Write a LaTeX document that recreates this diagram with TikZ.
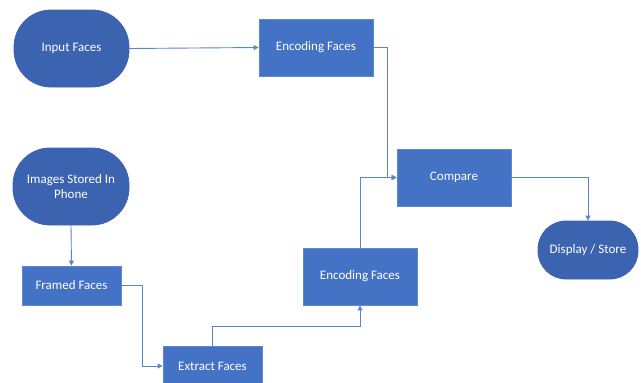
\documentclass[tikz,border=0pt]{standalone}
\usepackage{fontspec}
\setmainfont{Carlito}
\usetikzlibrary{arrows.meta}
\definecolor{boxfill}{HTML}{4472C4}
\definecolor{boxline}{HTML}{5E87D2}
\definecolor{termfill}{HTML}{3B63AF}
\definecolor{wire}{HTML}{5A84CC}
\tikzset{
  base/.style={text=white, font=\fontsize{13}{15.5}\selectfont, align=center, inner sep=0pt, line width=0.8pt},
  procbox/.style={base, rectangle, fill=boxfill, draw=boxline},
  termbox/.style={base, rectangle, fill=termfill, draw=termfill},
  wireline/.style={draw=wire, line width=0.9pt},
  arr/.style={wireline, -{Triangle[length=5pt,width=5pt]}}
}
\begin{document}
\begin{tikzpicture}[x=1pt,y=-1pt]
\useasboundingbox (0,0) rectangle (641,383);
\clip (0,0) rectangle (641,383);
\node[termbox, minimum width=115pt, minimum height=77pt, rounded corners=37pt] (inp) at (71.5,48.5) {Input Faces};
\node[procbox, minimum width=114pt, minimum height=57pt] (enc1) at (316,47.5) {Encoding Faces};
\node[termbox, minimum width=116pt, minimum height=77pt, rounded corners=37pt] (img) at (71,186.5) {Images Stored In\\Phone};
\node[procbox, minimum width=99pt, minimum height=39pt] (frm) at (71.5,285.5) {Framed Faces};
\node[procbox, minimum width=99pt, minimum height=40pt] (ext) at (212.5,366) {Extract Faces};
\node[procbox, minimum width=114pt, minimum height=57pt] (enc2) at (360,276.5) {Encoding Faces};
\node[procbox, minimum width=114pt, minimum height=57pt] (cmp) at (454,177.5) {Compare};
\node[termbox, minimum width=100pt, minimum height=58pt, rounded corners=28pt] (disp) at (588,250) {Display / Store};
\coordinate (j1) at (387,177.5);
\coordinate (j2) at (142,366);
\coordinate (j3) at (212.5,326);
\draw[arr] (inp.east) -- (enc1.west);
\draw[arr] (enc1.east) -| (j1) -- (cmp.west);
\draw[arr] (img.south) -- (frm.north);
\draw[arr] (frm.east) -| (j2) -- (ext.west);
\draw[arr] (ext.north) -- (j3) -| (enc2.south);
\draw[arr] (enc2.north) |- (cmp.west);
\draw[arr] (cmp.east) -| (disp.north);
\end{tikzpicture}
\end{document}
